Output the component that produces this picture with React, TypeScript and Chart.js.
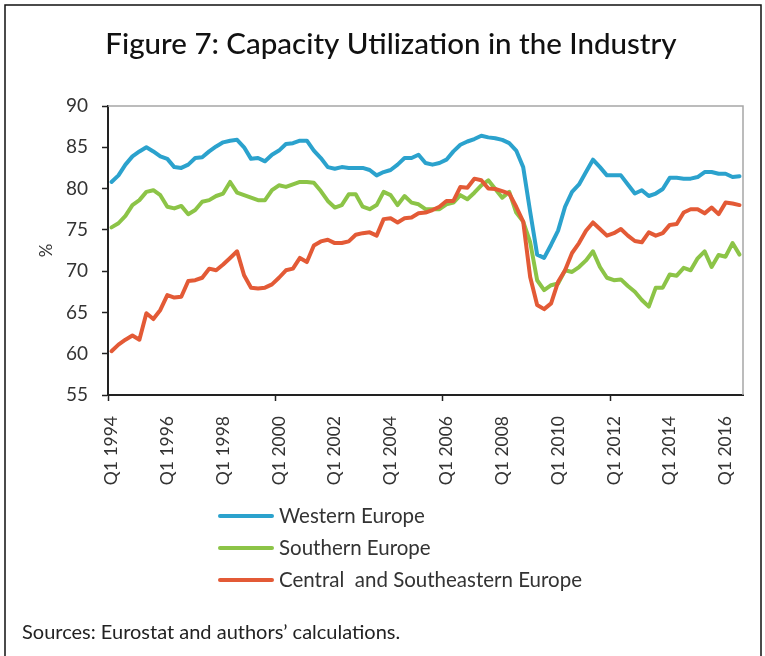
import React, { useEffect, useRef } from "react";
import { Chart, registerables } from "chart.js";

Chart.register(...registerables);

const startYear = 1994;
const quarterCount = 91;
const tickLabels = ["Q1 1994", "Q1 1996", "Q1 1998", "Q1 2000", "Q1 2002", "Q1 2004", "Q1 2006", "Q1 2008", "Q1 2010", "Q1 2012", "Q1 2014", "Q1 2016"];
const yTicks = [55, 60, 65, 70, 75, 80, 85, 90];

const western = [
  80.8, 81.6, 82.9, 83.9, 84.5, 85.0, 84.5, 83.9, 83.6, 82.6,
  82.5, 82.9, 83.7, 83.8, 84.5, 85.1, 85.6, 85.8, 85.9, 85.0,
  83.6, 83.7, 83.3, 84.1, 84.6, 85.4, 85.5, 85.8, 85.8, 84.6,
  83.7, 82.6, 82.4, 82.6, 82.5, 82.5, 82.5, 82.25, 81.6, 82.0,
  82.25, 82.9, 83.7, 83.7, 84.1, 83.1, 82.9, 83.1, 83.5, 84.5,
  85.3, 85.7, 86.0, 86.4, 86.2, 86.1, 85.9, 85.5, 84.6, 82.6,
  77.2, 72.0, 71.6, 73.2, 74.9, 77.8, 79.6, 80.5, 82.0, 83.5,
  82.6, 81.6, 81.6, 81.6, 80.5, 79.4, 79.8, 79.1, 79.4, 79.95,
  81.3, 81.3, 81.2, 81.2, 81.4, 82.0, 82.0, 81.8, 81.8, 81.4,
  81.5,
];

const southern = [
  75.3, 75.8, 76.7, 78.0, 78.6, 79.6, 79.8, 79.2, 77.8, 77.6,
  77.9, 76.9, 77.4, 78.4, 78.6, 79.1, 79.4, 80.8, 79.5, 79.2,
  78.9, 78.6, 78.6, 79.8, 80.4, 80.2, 80.5, 80.8, 80.8, 80.7,
  79.7, 78.5, 77.7, 78.0, 79.3, 79.3, 77.8, 77.5, 78.0, 79.6,
  79.2, 78.0, 79.1, 78.3, 78.1, 77.5, 77.5, 77.5, 78.1, 78.3,
  79.2, 78.7, 79.5, 80.4, 81.0, 79.95, 78.9, 79.6, 77.1, 76.0,
  73.5, 68.9, 67.7, 68.3, 68.5, 70.1, 69.9, 70.5, 71.3, 72.4,
  70.5, 69.2, 68.9, 69.0, 68.2, 67.5, 66.5, 65.7, 68.0, 68.0,
  69.6, 69.45, 70.4, 70.1, 71.55, 72.4, 70.5, 71.95, 71.75, 73.4,
  72.0,
];

const centralSE = [
  60.3, 61.1, 61.7, 62.2, 61.7, 64.9, 64.2, 65.3, 67.1, 66.8,
  66.9, 68.8, 68.9, 69.2, 70.3, 70.1, 70.8, 71.6, 72.4, 69.5,
  68.0, 67.9, 68.0, 68.4, 69.2, 70.1, 70.3, 71.6, 71.1, 73.1,
  73.6, 73.8, 73.4, 73.4, 73.6, 74.4, 74.6, 74.7, 74.3, 76.3,
  76.4, 75.9, 76.4, 76.5, 77.0, 77.1, 77.4, 77.8, 78.5, 78.5,
  80.2, 80.1, 81.2, 81.0, 80.0, 79.95, 79.7, 79.4, 77.8, 76.0,
  69.3, 65.9, 65.4, 66.1, 68.7, 70.1, 72.2, 73.4, 74.9, 75.9,
  75.1, 74.3, 74.6, 75.1, 74.3, 73.65, 73.5, 74.7, 74.3, 74.6,
  75.6, 75.7, 77.1, 77.5, 77.5, 77.0, 77.7, 76.9, 78.3, 78.2,
  78.0,
];

const seriesNames = ["Western Europe", "Southern Europe", "Central  and Southeastern Europe"];
const seriesColors = ["#2BA2CD", "#8CC447", "#E35A36"];

const titleText = "Figure 7: Capacity Utilization in the Industry";
const sourceText = "Sources: Eurostat and authors\u2019 calculations.";
const yTitle = "%";

const FONT = "Lato, 'Noto Sans', sans-serif";

const categories: string[] = [];
for (let i = 0; i < quarterCount; i++) {
  categories.push("Q" + ((i % 4) + 1) + " " + (startYear + Math.floor(i / 4)));
}

const decorPlugin = {
  id: "decor",
  beforeDraw(chart: any) {
    const ctx = chart.ctx;
    ctx.save();
    ctx.fillStyle = "#ffffff";
    ctx.fillRect(0, 0, chart.width, chart.height);
    ctx.restore();
  },
  beforeDatasetsDraw(chart: any) {
    const { ctx, chartArea } = chart;
    ctx.save();
    ctx.strokeStyle = "#a6a6a6";
    ctx.lineWidth = 1.5;
    ctx.beginPath();
    ctx.moveTo(chartArea.left, chartArea.top);
    ctx.lineTo(chartArea.right, chartArea.top);
    ctx.lineTo(chartArea.right, chartArea.bottom);
    ctx.stroke();
    ctx.restore();
  },
  afterDraw(chart: any) {
    const { ctx, chartArea } = chart;
    ctx.save();
    // frame
    ctx.strokeStyle = "#111";
    ctx.lineWidth = 1.5;
    ctx.beginPath();
    ctx.moveTo(5, 700);
    ctx.lineTo(5, 5);
    ctx.lineTo(761, 5);
    ctx.lineTo(761, 700);
    ctx.stroke();
    // title
    ctx.fillStyle = "#111";
    ctx.font = "500 29.5px " + FONT;
    ctx.textAlign = "center";
    ctx.textBaseline = "middle";
    ctx.fillText(titleText, 391, 44);
    // y title
    ctx.save();
    ctx.translate(47, (chartArea.top + chartArea.bottom) / 2);
    ctx.rotate(-Math.PI / 2);
    ctx.font = "17px " + FONT;
    ctx.fillStyle = "#333";
    ctx.fillText(yTitle, 0, 0);
    ctx.restore();
    // legend
    const legendY = [516, 548, 580];
    for (let i = 0; i < seriesNames.length; i++) {
      ctx.strokeStyle = seriesColors[i];
      ctx.lineWidth = 4;
      ctx.lineCap = "round";
      ctx.beginPath();
      ctx.moveTo(220, legendY[i]);
      ctx.lineTo(272, legendY[i]);
      ctx.stroke();
      ctx.fillStyle = "#333";
      ctx.font = "20.5px " + FONT;
      ctx.textAlign = "left";
      ctx.textBaseline = "middle";
      ctx.fillText(seriesNames[i], 279, legendY[i]);
    }
    // source
    ctx.fillStyle = "#222";
    ctx.font = "20px " + FONT;
    ctx.textAlign = "left";
    ctx.textBaseline = "middle";
    ctx.fillText(sourceText, 22, 633);
    ctx.restore();
  },
};

export default function App() {
  const canvasRef = useRef<HTMLCanvasElement | null>(null);

  useEffect(() => {
    if (!canvasRef.current) return;
    const chart = new Chart(canvasRef.current, {
      type: "line",
      data: {
        labels: categories,
        datasets: [
          { label: seriesNames[0], data: western, borderColor: seriesColors[0], order: 3 },
          { label: seriesNames[1], data: southern, borderColor: seriesColors[1], order: 2 },
          { label: seriesNames[2], data: centralSE, borderColor: seriesColors[2], order: 1 },
        ].map((d) => ({
          ...d,
          borderWidth: 4,
          pointRadius: 0,
          tension: 0,
          fill: false,
          borderJoinStyle: "round" as const,
          borderCapStyle: "round" as const,
        })),
      },
      options: {
        animation: false,
        responsive: false,
        maintainAspectRatio: false,
        layout: { padding: { left: 0, right: 22, top: 106, bottom: 161 } },
        plugins: { legend: { display: false }, title: { display: false }, tooltip: { enabled: false } },
        scales: {
          x: {
            type: "category",
            offset: true,
            grid: {
              offset: true,
              drawOnChartArea: false,
              drawTicks: true,
              tickLength: 6,
              tickWidth: 1.5,
              tickColor: (c: any) => (c.index % 24 === 0 ? "#222" : "rgba(0,0,0,0)"),
              color: "rgba(0,0,0,0)",
            },
            border: { display: true, color: "#222", width: 2 },
            ticks: {
              autoSkip: false,
              minRotation: 90,
              maxRotation: 90,
              padding: 15,
              color: "#333",
              font: { family: FONT, size: 17.5 },
              callback: (_v: any, i: number) => (i % 8 === 0 ? tickLabels[i / 8] : ""),
            },
            afterFit: (s: any) => {
              s.height = 100;
              s.paddingLeft = 0;
              s.paddingRight = 0;
            },
          },
          y: {
            min: 55,
            max: 90,
            afterBuildTicks: (s: any) => {
              s.ticks = yTicks.map((v) => ({ value: v }));
            },
            grid: {
              drawOnChartArea: false,
              drawTicks: true,
              tickLength: 6,
              tickWidth: 1.5,
              tickColor: "#222",
              color: "rgba(0,0,0,0)",
            },
            border: { display: true, color: "#222", width: 2 },
            ticks: {
              padding: 14,
              color: "#333",
              font: { family: FONT, size: 19 },
            },
            afterFit: (s: any) => {
              s.width = 108;
              s.paddingTop = 0;
              s.paddingBottom = 0;
            },
          },
        },
      },
      plugins: [decorPlugin],
    });
    return () => chart.destroy();
  }, []);

  return (
    <div style={{ position: "absolute", left: 0, top: 0, width: 765, height: 656, overflow: "hidden", background: "#fff" }}>
      <canvas ref={canvasRef} width={765} height={656} style={{ width: 765, height: 656, display: "block" }} />
    </div>
  );
}
